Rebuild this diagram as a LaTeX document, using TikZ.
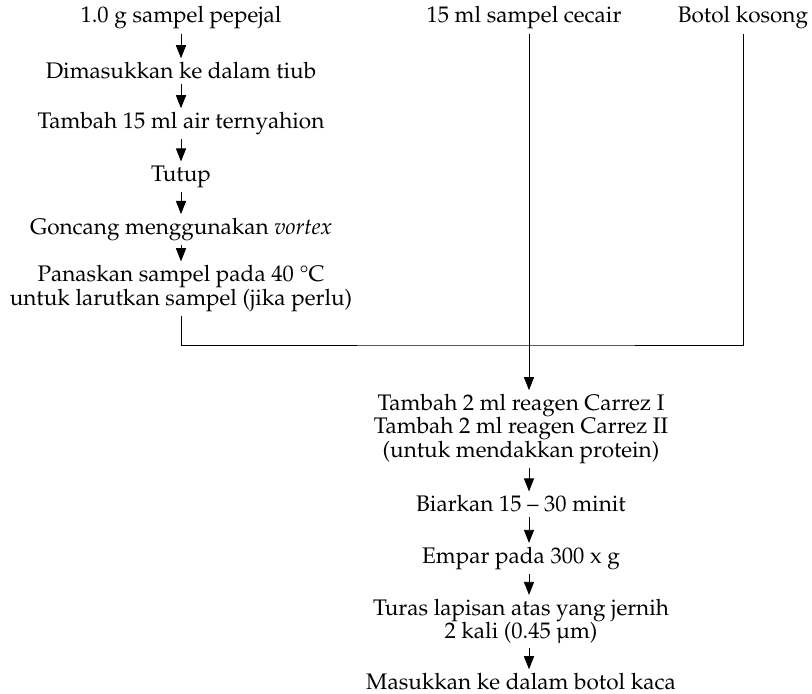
\documentclass[tikz,border=0pt]{standalone}
\usepackage[T1]{fontenc}
\usepackage{mathpazo}
\usepackage{textcomp}
\usetikzlibrary{arrows.meta,positioning}

\begin{document}
\begin{tikzpicture}[x=0.533pt,y=-0.533pt,node distance=28.2pt,on grid, >={Triangle[length=7pt,width=5.4pt]}, line width=0.5pt,
        every node/.style={font=\fontsize{12}{12.4}\selectfont,inner sep=2pt,align=center}]
        \useasboundingbox (0,0) rectangle (812,694);
                \node            (pepejal) at (181,18)           {1.0 g sampel pepejal};
                \node            (tiub)    [below=of pepejal]    {Dimasukkan ke dalam tiub};
                \node            (air)     [below=of tiub]       {Tambah 15 ml air ternyahion};
                \node            (tutup)   [below=of air]        {Tutup};
                \node            (vortex)  [below=of tutup]      {Goncang menggunakan \emph{vortex}};
                \node            (panas)   [below=31.4pt of vortex] {Panaskan sampel pada 40 \textdegree C\\untuk larutkan sampel (jika perlu)};
                \node            (cecair)  at (524,18)           {15 ml sampel cecair};
                \node            (botol)   at (743,18)           {Botol kosong};
                \node            (carrez)  at (521,429)          {Tambah 2 ml reagen Carrez I\\Tambah 2 ml reagen Carrez II\\(untuk mendakkan protein)};
                \node            (biar)    [below=40pt of carrez]   {Biarkan 15 -- 30 minit};
                \node            (empar)   [below=29pt of biar]     {Empar pada 300 x g};
                \node            (turas)   [below=33.6pt of empar]  {Turas lapisan atas yang jernih\\2 kali (0.45 \textmu m)};
                \node            (kaca)    [below=32.2pt of turas]  {Masukkan ke dalam botol kaca};
                \coordinate      (gabung)  at (529,345);

            \path[->]   (pepejal) edge (tiub)
                        (tiub)    edge (air)
                        (air)     edge (tutup)
                        (tutup)   edge (vortex)
                        (vortex)  edge (panas)
                        (cecair.south -| gabung) edge (carrez.north -| gabung)
                        (carrez.south -| gabung) edge (biar.north -| gabung)
                        (biar.south -| gabung)   edge (empar.north -| gabung)
                        (empar.south -| gabung)  edge (turas.north -| gabung)
                        (turas.south -| gabung)  edge (kaca.north -| gabung);
            \draw (panas.south) |- (gabung) -| (botol.south);
        	\end{tikzpicture}
\end{document}
